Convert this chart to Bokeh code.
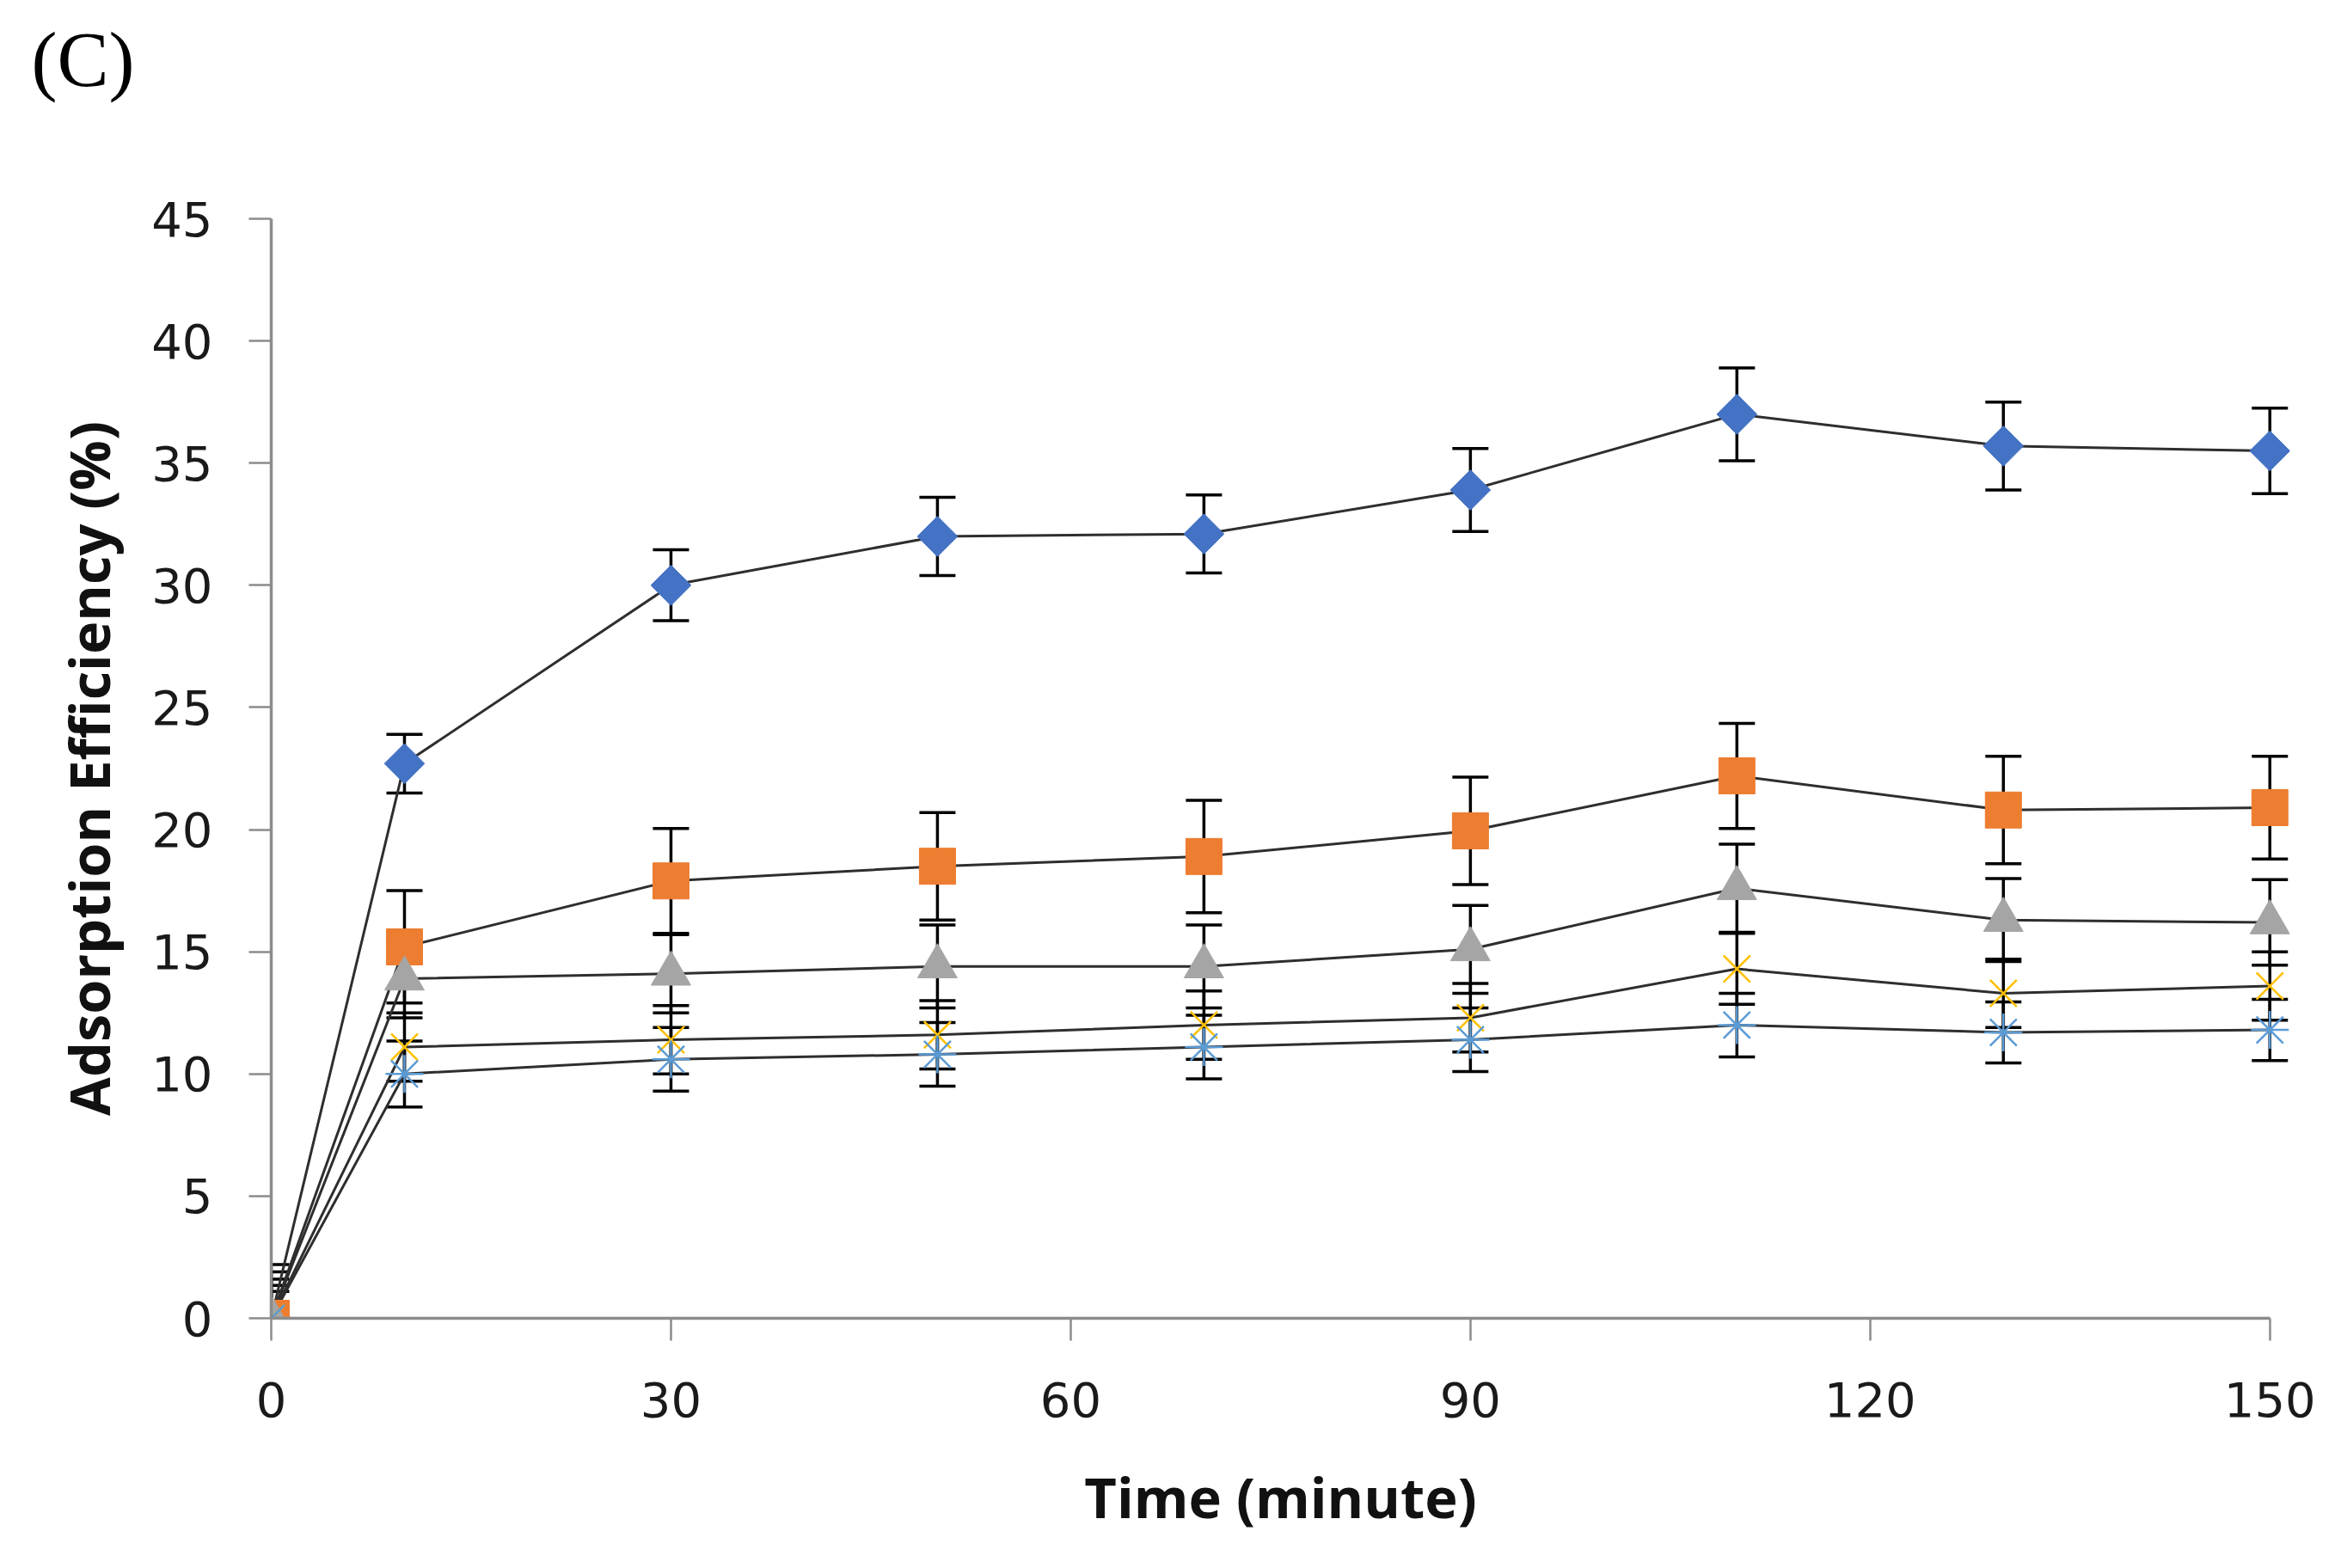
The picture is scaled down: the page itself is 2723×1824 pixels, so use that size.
import numpy as np
from bokeh.plotting import figure
from bokeh.models import Range1d, FixedTicker, ColumnDataSource, Whisker, TeeHead, LinearAxis
from bokeh.embed import file_html
from bokeh.resources import INLINE

time_min = [0, 10, 30, 50, 70, 90, 110, 130, 150]

s1 = [0, 22.7, 30.0, 32.0, 32.1, 33.9, 37.0, 35.7, 35.5]
e1 = [1.1, 1.2, 1.45, 1.6, 1.6, 1.7, 1.9, 1.8, 1.75]
s2 = [0, 15.2, 17.9, 18.5, 18.9, 19.95, 22.2, 20.8, 20.9]
e2 = [2.2, 2.3, 2.15, 2.2, 2.3, 2.2, 2.15, 2.2, 2.1]
s3 = [0, 13.9, 14.1, 14.4, 14.4, 15.1, 17.6, 16.3, 16.2]
e3 = [1.9, 1.6, 1.6, 1.7, 1.7, 1.8, 1.8, 1.7, 1.75]
s4 = [0, 11.1, 11.4, 11.6, 12.0, 12.3, 14.3, 13.3, 13.6]
e4 = [1.6, 1.4, 1.4, 1.4, 1.4, 1.4, 1.45, 1.4, 1.4]
s5 = [0, 10.0, 10.6, 10.8, 11.1, 11.4, 12.0, 11.7, 11.8]
e5 = [1.35, 1.35, 1.3, 1.3, 1.3, 1.3, 1.3, 1.25, 1.25]

x_ticks = [0, 30, 60, 90, 120, 150]
y_ticks = [0, 5, 10, 15, 20, 25, 30, 35, 40, 45]

p = figure(width=2707, height=1808, output_backend="svg", toolbar_location=None,
           x_range=Range1d(0, 151.5), y_range=Range1d(0, 45),
           min_border_left=315, min_border_right=44, min_border_top=254, min_border_bottom=275)
p.outline_line_color = None
p.xgrid.grid_line_color = None
p.ygrid.grid_line_color = None
p.background_fill_color = "white"

xax = p.below[0]
yax = p.left[0]

p.title.text = "(C)"
p.title.align = "left"
p.title.offset = -279
p.title.text_font = "Liberation Serif"
p.title.text_font_size = "90px"
p.title.text_font_style = "normal"
p.title.text_color = "black"

# invisible spacer axis above the frame, pushing the panel tag upward
spacer = LinearAxis(ticker=FixedTicker(ticks=[0]), axis_line_color=None,
                    major_tick_line_color=None, major_tick_out=131, major_tick_in=0,
                    minor_tick_line_color=None, major_label_text_font_size="1px",
                    major_label_text_alpha=0, major_label_standoff=0)
p.add_layout(spacer, "above")

for ax, ticks in ((xax, x_ticks), (yax, y_ticks)):
    ax.ticker = FixedTicker(ticks=ticks)
    ax.bounds = (ticks[0], ticks[-1])
    ax.axis_line_color = "#8c8c8c"
    ax.axis_line_width = 3.5
    ax.major_tick_line_color = "#8c8c8c"
    ax.major_tick_line_width = 2.5
    ax.major_tick_out = 26
    ax.major_tick_in = 0
    ax.minor_tick_line_color = None
    ax.major_label_text_font = "DejaVu Sans"
    ax.major_label_text_font_size = "56px"
    ax.major_label_text_color = "#1a1a1a"
    ax.axis_label_text_font = "Open Sans"
    ax.axis_label_text_font_style = "bold"
    ax.axis_label_text_font_size = "65px"
    ax.axis_label_text_color = "#111111"

xax.axis_label = "Time (minute)"
yax.axis_label = "Adsorption Efficiency (%)"
xax.major_label_standoff = 48
yax.major_label_standoff = 42
xax.axis_label_standoff = 46
yax.axis_label_standoff = 26

series = [
    (s1, e1, dict(marker="square", angle=np.pi / 4, size=33, fill_color="#4472C4", line_color="#4472C4")),
    (s2, e2, dict(marker="square", size=42, fill_color="#ED7D31", line_color="#ED7D31")),
    (s3, e3, dict(marker="triangle", size=46, fill_color="#A5A5A5", line_color="#A5A5A5")),
    (s4, e4, dict(marker="x", size=44, line_color="#FFC000", line_width=2.5)),
    (s5, e5, dict(marker="asterisk", size=44, line_color="#5B9BD5", line_width=2.5)),
]

for ys, es, mk in series:
    src = ColumnDataSource(dict(x=time_min, y=ys,
                                lo=[a - b for a, b in zip(ys, es)],
                                hi=[a + b for a, b in zip(ys, es)]))
    w = Whisker(source=src, base="x", lower="lo", upper="hi", dimension="height",
                line_color="black", line_width=3.5,
                upper_head=TeeHead(size=42, line_color="black", line_width=3.5),
                lower_head=TeeHead(size=42, line_color="black", line_width=3.5))
    p.add_layout(w)

for ys, es, mk in series:
    src = ColumnDataSource(dict(x=time_min, y=ys))
    p.line("x", "y", source=src, line_color="#2e2e2e", line_width=3)

for ys, es, mk in series:
    src = ColumnDataSource(dict(x=time_min, y=ys))
    p.scatter("x", "y", source=src, **mk)

open("out.html", "w").write(file_html(p, INLINE))
